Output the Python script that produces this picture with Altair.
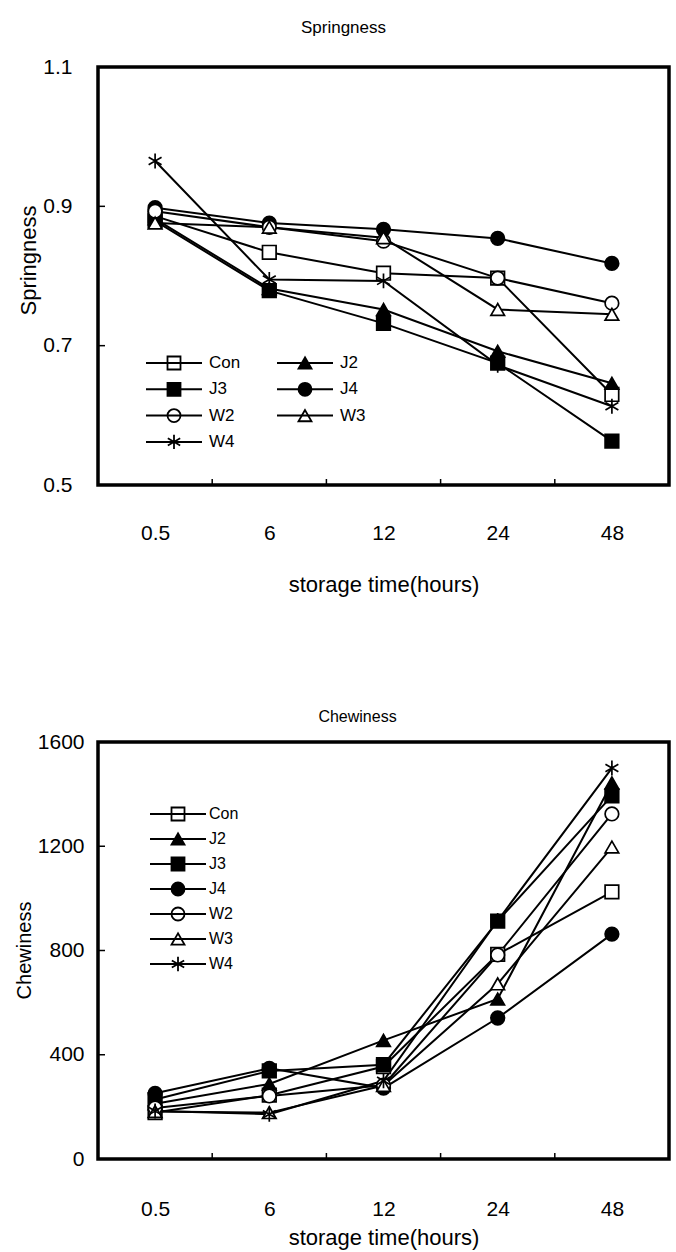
import altair as alt
import pandas as pd

FONT = "Liberation Sans, Arial, sans-serif"

times = ["0.5", "6", "12", "24", "48"]
series = ["Con", "J2", "J3", "J4", "W2", "W3", "W4"]

# Springness values
spr_con = [0.886, 0.834, 0.804, 0.797, 0.630]
spr_j2 = [0.882, 0.782, 0.752, 0.692, 0.646]
spr_j3 = [0.879, 0.779, 0.732, 0.675, 0.563]
spr_j4 = [0.898, 0.876, 0.867, 0.854, 0.818]
spr_w2 = [0.893, 0.870, 0.850, 0.797, 0.761]
spr_w3 = [0.876, 0.870, 0.855, 0.752, 0.745]
spr_w4 = [0.965, 0.795, 0.793, 0.672, 0.613]

# Chewiness values
chw_con = [178, 245, 355, 785, 1025]
chw_j2 = [212, 288, 455, 614, 1443]
chw_j3 = [228, 338, 362, 913, 1393]
chw_j4 = [252, 348, 272, 541, 863]
chw_w2 = [196, 242, 283, 783, 1324]
chw_w3 = [182, 178, 282, 672, 1197]
chw_w4 = [184, 172, 300, 915, 1500]

spr_ticks = [0.5, 0.7, 0.9, 1.1]
chw_ticks = [0, 400, 800, 1200, 1600]

fills = ["white", "black", "black", "black", "white", "white", "white"]
STAR = "M0,-1.1L0,1.1M-0.95,-0.55L0.95,0.55M-0.95,0.55L0.95,-0.55"
plot_shapes = ["square", "triangle-up", "square", "circle", "circle", "triangle-up", STAR]


def build_df(lists):
    rows = []
    for s, vals in zip(series, lists):
        for i, v in enumerate(vals):
            rows.append({"series": s, "idx": i, "value": v})
    return pd.DataFrame(rows)


label_expr = "[" + ",".join("'%s'" % t for t in times) + "][datum.value]"
shape_scale = alt.Scale(domain=series, range=plot_shapes)
fill_scale = alt.Scale(domain=series, range=fills)


def panel(df, W, H, ydomain, yvals, yfmt, ytitle, title, title_dx, title_offset,
          title_size, ylabpad, ytitle_x, ytitle_y, ytitle_size, xlabpad, xtitle_y,
          ncols, leg_x, leg_colgap, leg_y, leg_rowgap, leg_font, leg_textdx):
    xscale = alt.Scale(domain=[-0.5, len(times) - 0.5], nice=False, zero=False)
    yscale = alt.Scale(domain=ydomain, nice=False, zero=False)
    xaxis = alt.Axis(values=list(range(len(times))), labelExpr=label_expr,
                     ticks=False, domain=False, grid=False, labelPadding=xlabpad,
                     labelFontSize=21, labelFont=FONT, labelColor="black",
                     labelFlush=False, labelOverlap=False,
                     title="storage time(hours)", titleFont=FONT, titleFontSize=22,
                     titleFontWeight="normal", titleColor="black",
                     titleY=xtitle_y, titleBaseline="middle")
    yaxis = alt.Axis(values=yvals, format=yfmt, ticks=False, domain=False,
                     grid=False, labelPadding=ylabpad, labelFontSize=21,
                     labelFont=FONT, labelColor="black", labelFlush=False,
                     title=ytitle, titleFont=FONT, titleFontSize=ytitle_size,
                     titleFontWeight="normal", titleColor="black",
                     titleX=ytitle_x, titleY=ytitle_y, titleBaseline="middle")
    X = lambda f: alt.X(f, scale=xscale, axis=xaxis)
    Y = lambda f: alt.Y(f, scale=yscale, axis=yaxis)
    base = alt.Chart(df)
    lines = base.mark_line(color="black", strokeWidth=2).encode(
        x=X("idx:Q"), y=Y("value:Q"), detail="series:N")
    pts = base.mark_point(filled=True, stroke="black", strokeWidth=1.7, size=185,
                          opacity=1).encode(
        x=X("idx:Q"), y=Y("value:Q"),
        shape=alt.Shape("series:N", scale=shape_scale, legend=None),
        fill=alt.Fill("series:N", scale=fill_scale, legend=None),
    )
    ytick_df = pd.DataFrame({"v": yvals[1:-1]})
    yticks = alt.Chart(ytick_df).mark_rule(color="black", strokeWidth=1.5).encode(
        y=Y("v:Q"), x=alt.value(0), x2=alt.value(7))
    xtick_df = pd.DataFrame({"v": [i + 0.5 for i in range(len(times) - 1)]})
    xticks = alt.Chart(xtick_df).mark_rule(color="black", strokeWidth=1.5).encode(
        x=X("v:Q"), y=alt.value(H), y2=alt.value(H - 6))
    plot = alt.layer(lines, pts, yticks, xticks)

    # legend drawn with marks; positions come from its own row/column scales
    nrows = (len(series) + ncols - 1) // ncols
    leg_df = pd.DataFrame({
        "series": series,
        "col": [i % ncols for i in range(len(series))],
        "row": [i // ncols for i in range(len(series))],
    })
    lx = alt.Scale(domain=[0, 1], range=[leg_x, leg_x + leg_colgap])
    ly = alt.Scale(domain=[0, nrows - 1], range=[leg_y, leg_y + leg_rowgap * (nrows - 1)])
    lbase = alt.Chart(leg_df)
    LX = alt.X("col:Q", scale=lx, axis=None)
    LY = alt.Y("row:Q", scale=ly, axis=None)
    lpts = lbase.mark_point(filled=True, stroke="black", strokeWidth=1.8, size=169,
                            opacity=1).encode(
        x=LX, y=LY,
        shape=alt.Shape("series:N", scale=shape_scale, legend=None),
        fill=alt.Fill("series:N", scale=fill_scale, legend=None),
    )
    lrule = lbase.mark_rule(color="black", strokeWidth=2, xOffset=-28,
                            x2Offset=28).encode(x=LX, x2="col:Q", y=LY)
    ltext = lbase.mark_text(align="left", baseline="middle", dx=leg_textdx,
                            font=FONT, fontSize=leg_font, color="black").encode(
        x=LX, y=LY, text="series:N")
    legend = alt.layer(lpts, lrule, ltext)

    return alt.layer(plot, legend).resolve_scale(x="independent", y="independent").properties(
        width=W, height=H,
        title=alt.TitleParams(title, font=FONT, fontSize=title_size,
                              fontWeight="normal", color="black", anchor="middle",
                              dx=title_dx, offset=title_offset))


df_s = build_df([spr_con, spr_j2, spr_j3, spr_j4, spr_w2, spr_w3, spr_w4])
df_c = build_df([chw_con, chw_j2, chw_j3, chw_j4, chw_w2, chw_w3, chw_w4])

top = panel(df_s, 571, 418, [0.5, 1.1], spr_ticks, ".1f", "Springness",
            "Springness", -40, 19, 17, 26, -70, 193, 22, 37, 99,
            2, 76, 131, 296, 26.3, 17, 35)
bot = panel(df_c, 571, 417, [0, 1600], chw_ticks, "d", "Chewiness",
            "Chewiness", -26, 6, 16, 14, -74, 208, 20, 39, 78,
            1, 80, 131, 72, 25, 16, 31)

chart = alt.vconcat(top, bot, spacing=110).properties(
    padding={"left": 12, "top": 17, "right": 0, "bottom": 0},
    background="white",
).configure_view(stroke="black", strokeWidth=3.5)

chart.save("out.html", embed_options={"renderer": "svg", "actions": False})
